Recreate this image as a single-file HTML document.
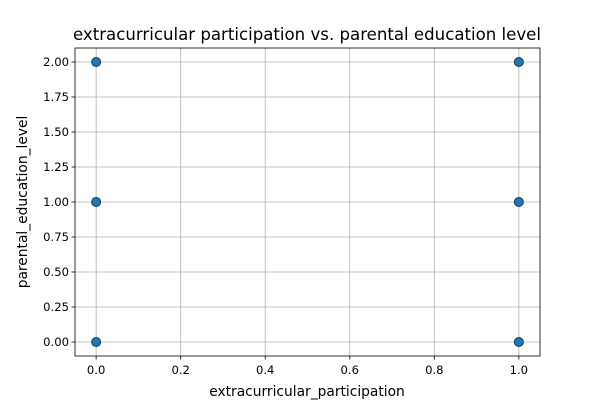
<!DOCTYPE html>
<html><head><meta charset="utf-8"><style>
body{margin:0;background:#fff;}
svg text{font-family:"DejaVu Sans","Liberation Sans",sans-serif;fill:#000;}
</style></head><body>
<svg id="chart" width="600" height="400" xmlns="http://www.w3.org/2000/svg">
<rect width="600" height="400" fill="#fff"/>
<g id="grid"></g><g id="ticks"></g><g id="points"></g>
<rect x="75" y="48" width="465" height="308" fill="none" stroke="#000" stroke-width="0.8"/>
<text x="307" y="40" font-size="16.6" text-anchor="middle">extracurricular participation vs. parental education level</text>
<text x="307" y="396" font-size="13.8" text-anchor="middle">extracurricular_participation</text>
<text transform="translate(27,202) rotate(-90)" font-size="13.8" text-anchor="middle">parental_education_level</text>
</svg>
<script>
const xVals=[0,0,0,1,1,1];
const yVals=[0,1,2,0,1,2];
const xTicks=[0,0.2,0.4,0.6,0.8,1.0];
const xTickLabels=["0.0","0.2","0.4","0.6","0.8","1.0"];
const yTicks=[0,0.25,0.5,0.75,1,1.25,1.5,1.75,2];
const yTickLabels=["0.00","0.25","0.50","0.75","1.00","1.25","1.50","1.75","2.00"];
const L=75,R=540,T=48,B=356,xmin=-0.05,xmax=1.05,ymin=-0.1,ymax=2.1;
const sx=v=>L+(v-xmin)/(xmax-xmin)*(R-L);
const sy=v=>B-(v-ymin)/(ymax-ymin)*(B-T);
const NS="http://www.w3.org/2000/svg";
function mk(tag,attrs,parent){const e=document.createElementNS(NS,tag);for(const k in attrs)e.setAttribute(k,attrs[k]);document.getElementById(parent).appendChild(e);return e;}
xTicks.forEach((t,i)=>{const x=sx(t);
const g=mk('line',{x1:x,x2:x,y1:T,y2:B,stroke:'#b0b0b0','stroke-width':0.8},'grid');


const tk=mk('line',{x1:x,x2:x,y1:B,y2:B+3.5,stroke:'#000','stroke-width':0.8},'ticks');


const tx=mk('text',{x:x,y:B+18,'font-size':11.6,'text-anchor':'middle'},'ticks');tx.textContent=xTickLabels[i];

});
yTicks.forEach((t,i)=>{const y=sy(t);
const g=mk('line',{x1:L,x2:R,y1:y,y2:y,stroke:'#b0b0b0','stroke-width':0.8},'grid');


const tk=mk('line',{x1:L-3.5,x2:L,y1:y,y2:y,stroke:'#000','stroke-width':0.8},'ticks');


const tx=mk('text',{x:L-6,y:y+4,'font-size':11.6,'text-anchor':'end'},'ticks');tx.textContent=yTickLabels[i];

});
xVals.forEach((v,i)=>{const c=mk('circle',{cx:sx(v),cy:sy(yVals[i]),r:4.5,fill:'#1f77b4',stroke:'#1a3a5a','stroke-width':1},'points');

});
</script>
</body></html>
